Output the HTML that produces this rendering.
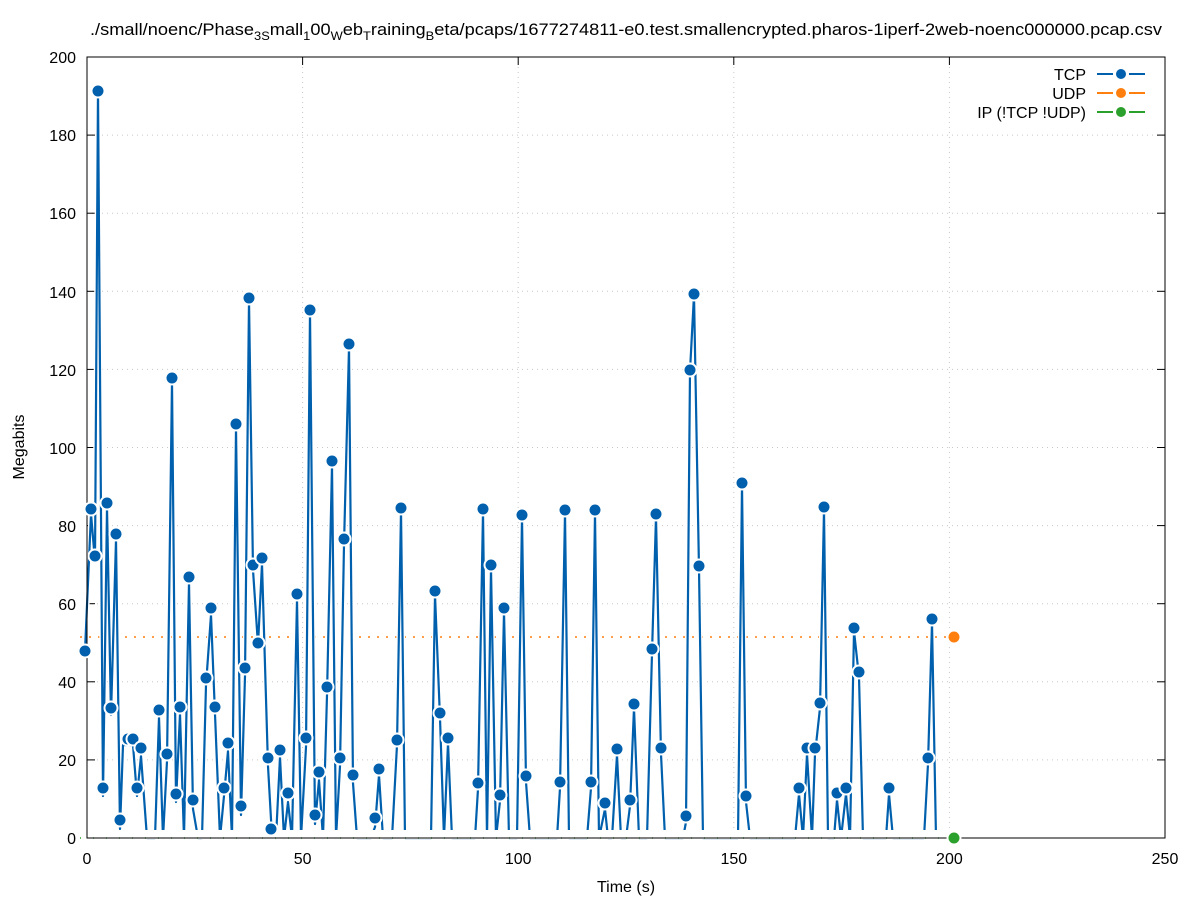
<!DOCTYPE html>
<html><head><meta charset="utf-8"><style>
html,body{margin:0;padding:0;background:#fff;}
svg{display:block;font-family:"Liberation Sans",sans-serif;}
</style></head><body>
<svg width="1197" height="900" viewBox="0 0 1197 900">
<rect width="1197" height="900" fill="#fff"/>
<g stroke="#c8c8c8" stroke-width="1" stroke-dasharray="1,4">
<line x1="87" y1="759.9" x2="1165" y2="759.9"/><line x1="87" y1="681.8" x2="1165" y2="681.8"/>
<line x1="87" y1="603.7" x2="1165" y2="603.7"/><line x1="87" y1="525.6" x2="1165" y2="525.6"/>
<line x1="87" y1="447.5" x2="1165" y2="447.5"/><line x1="87" y1="369.4" x2="1165" y2="369.4"/>
<line x1="87" y1="291.3" x2="1165" y2="291.3"/><line x1="87" y1="213.2" x2="1165" y2="213.2"/>
<line x1="87" y1="135.1" x2="1165" y2="135.1"/>
<line x1="302.6" y1="57" x2="302.6" y2="838"/><line x1="518.2" y1="57" x2="518.2" y2="838"/>
<line x1="733.8" y1="57" x2="733.8" y2="838"/><line x1="949.4" y1="57" x2="949.4" y2="838"/>
</g>
<g stroke="#000" stroke-width="1">
<line x1="87" y1="759.9" x2="95" y2="759.9"/><line x1="87" y1="681.8" x2="95" y2="681.8"/><line x1="87" y1="603.7" x2="95" y2="603.7"/><line x1="87" y1="525.6" x2="95" y2="525.6"/><line x1="87" y1="447.5" x2="95" y2="447.5"/><line x1="87" y1="369.4" x2="95" y2="369.4"/><line x1="87" y1="291.3" x2="95" y2="291.3"/><line x1="87" y1="213.2" x2="95" y2="213.2"/><line x1="87" y1="135.1" x2="95" y2="135.1"/>
<line x1="1165" y1="759.9" x2="1157" y2="759.9"/><line x1="1165" y1="681.8" x2="1157" y2="681.8"/><line x1="1165" y1="603.7" x2="1157" y2="603.7"/><line x1="1165" y1="525.6" x2="1157" y2="525.6"/><line x1="1165" y1="447.5" x2="1157" y2="447.5"/><line x1="1165" y1="369.4" x2="1157" y2="369.4"/><line x1="1165" y1="291.3" x2="1157" y2="291.3"/><line x1="1165" y1="213.2" x2="1157" y2="213.2"/><line x1="1165" y1="135.1" x2="1157" y2="135.1"/>
<line x1="302.6" y1="838" x2="302.6" y2="830"/><line x1="518.2" y1="838" x2="518.2" y2="830"/><line x1="733.8" y1="838" x2="733.8" y2="830"/><line x1="949.4" y1="838" x2="949.4" y2="830"/>
<line x1="302.6" y1="57" x2="302.6" y2="65"/><line x1="518.2" y1="57" x2="518.2" y2="65"/><line x1="733.8" y1="57" x2="733.8" y2="65"/><line x1="949.4" y1="57" x2="949.4" y2="65"/>
</g>
<g font-size="16" fill="#000" text-anchor="end">
<text x="76" y="844">0</text><text x="76" y="766">20</text><text x="76" y="688">40</text><text x="76" y="610">60</text><text x="76" y="532">80</text><text x="76" y="454">100</text><text x="76" y="376">120</text><text x="76" y="298">140</text><text x="76" y="219">160</text><text x="76" y="141">180</text><text x="76" y="63">200</text>
</g>
<g font-size="16" fill="#000" text-anchor="middle">
<text x="87" y="864">0</text><text x="302.6" y="864">50</text><text x="518.2" y="864">100</text><text x="733.8" y="864">150</text><text x="949.4" y="864">200</text><text x="1165" y="864">250</text>
<text x="626" y="892">Time (s)</text>
<text x="626" y="35" font-size="17" textLength="1072" lengthAdjust="spacingAndGlyphs">./small/noenc/Phase<tspan font-size="12" dy="5">3S</tspan><tspan dy="-5">mall</tspan><tspan font-size="12" dy="5">1</tspan><tspan dy="-5">00</tspan><tspan font-size="12" dy="5">W</tspan><tspan dy="-5">eb</tspan><tspan font-size="12" dy="5">T</tspan><tspan dy="-5">raining</tspan><tspan font-size="12" dy="5">B</tspan><tspan dy="-5">eta/pcaps/1677274811-e0.test.smallencrypted.pharos-1iperf-2web-noenc000000.pcap.csv</tspan></text>
</g>
<text x="24" y="447" font-size="16" text-anchor="middle" transform="rotate(-90 24 447)">Megabits</text>
<line x1="80" y1="637" x2="954" y2="637" stroke="#ff7f0e" stroke-width="1.5" stroke-dasharray="2,7"/>
<g fill="none" stroke-linejoin="round">
<polyline stroke="#fff" stroke-width="5" points="85,651 91,514 95,561 98,91 103,796 107,508 111,715 116,540 120,829 123,745 133,745 137,796 141,756 147,838 155,838 159,717 163,838 167,761 172,382 176,802 180,714 184,838 189,583 193,809 198,838 202,838 206,685 211,615 215,714 220,838 224,796 228,751 232,838 236,428 241,815 245,676 249,301 253,570 258,645 262,564 268,766 272,837 276,838 280,757 284,838 288,802 292,838 297,600 301,838 306,747 310,313 315,824 319,780 323,838 327,695 332,466 336,838 340,766 344,545 349,348 353,783 357,838 371,838 375,827 379,775 383,838 392,838 397,745 401,511 405,838 431,838 435,595 440,718 444,838 448,743 452,838 475,838 478,789 483,512 487,838 491,569 496,838 500,801 504,612 509,838 517,838 522,518 526,782 530,838 557,838 560,788 565,513 569,838 587,838 591,788 595,513 599,838 605,809 608,838 612,838 617,755 621,838 626,838 630,806 634,708 639,838 647,838 652,653 656,517 661,754 665,838 683,838 686,822 690,371 694,295 699,569 703,838 738,838 742,486 746,802 750,838 795,838 799,794 803,838 807,754 812,838 815,754 820,708 824,510 828,838 834,838 837,800 841,838 846,794 850,838 854,631 859,677 863,838 886,838 889,794 893,838 924,838 928,764 932,623 936,838"/>
<polyline stroke="#0060ad" stroke-width="2.2" points="85,651 91,514 95,561 98,91 103,796 107,508 111,715 116,540 120,829 123,745 133,745 137,796 141,756 147,838 155,838 159,717 163,838 167,761 172,382 176,802 180,714 184,838 189,583 193,809 198,838 202,838 206,685 211,615 215,714 220,838 224,796 228,751 232,838 236,428 241,815 245,676 249,301 253,570 258,645 262,564 268,766 272,837 276,838 280,757 284,838 288,802 292,838 297,600 301,838 306,747 310,313 315,824 319,780 323,838 327,695 332,466 336,838 340,766 344,545 349,348 353,783 357,838 371,838 375,827 379,775 383,838 392,838 397,745 401,511 405,838 431,838 435,595 440,718 444,838 448,743 452,838 475,838 478,789 483,512 487,838 491,569 496,838 500,801 504,612 509,838 517,838 522,518 526,782 530,838 557,838 560,788 565,513 569,838 587,838 591,788 595,513 599,838 605,809 608,838 612,838 617,755 621,838 626,838 630,806 634,708 639,838 647,838 652,653 656,517 661,754 665,838 683,838 686,822 690,371 694,295 699,569 703,838 738,838 742,486 746,802 750,838 795,838 799,794 803,838 807,754 812,838 815,754 820,708 824,510 828,838 834,838 837,800 841,838 846,794 850,838 854,631 859,677 863,838 886,838 889,794 893,838 924,838 928,764 932,623 936,838"/>
</g>
<rect x="80" y="830" width="876" height="9" fill="#fff"/>
<line x1="80" y1="838" x2="954" y2="838" stroke="#2ca02c" stroke-width="1.5" stroke-dasharray="1,12"/>
<rect x="87" y="57" width="1078" height="781" fill="none" stroke="#000" stroke-width="1"/>
<g fill="#0060ad" stroke="#fff" stroke-width="2">
<circle cx="85" cy="651" r="6.5"/><circle cx="91" cy="509" r="6.5"/><circle cx="95" cy="556" r="6.5"/><circle cx="98" cy="91" r="6.5"/><circle cx="103" cy="788" r="6.5"/><circle cx="107" cy="503" r="6.5"/><circle cx="111" cy="708" r="6.5"/><circle cx="116" cy="534" r="6.5"/><circle cx="120" cy="820" r="6.5"/><circle cx="128" cy="739" r="6.5"/><circle cx="133" cy="739" r="6.5"/><circle cx="137" cy="788" r="6.5"/><circle cx="141" cy="748" r="6.5"/>
<circle cx="159" cy="710" r="6.5"/><circle cx="167" cy="754" r="6.5"/><circle cx="172" cy="378" r="6.5"/><circle cx="176" cy="794" r="6.5"/><circle cx="180" cy="707" r="6.5"/><circle cx="189" cy="577" r="6.5"/><circle cx="193" cy="800" r="6.5"/><circle cx="206" cy="678" r="6.5"/><circle cx="211" cy="608" r="6.5"/><circle cx="215" cy="707" r="6.5"/><circle cx="224" cy="788" r="6.5"/><circle cx="228" cy="743" r="6.5"/><circle cx="236" cy="424" r="6.5"/><circle cx="241" cy="806" r="6.5"/><circle cx="245" cy="668" r="6.5"/><circle cx="249" cy="298" r="6.5"/><circle cx="253" cy="565" r="6.5"/><circle cx="258" cy="643" r="6.5"/><circle cx="262" cy="558" r="6.5"/><circle cx="268" cy="758" r="6.5"/><circle cx="271" cy="829" r="6.5"/><circle cx="280" cy="750" r="6.5"/><circle cx="288" cy="793" r="6.5"/><circle cx="297" cy="594" r="6.5"/><circle cx="306" cy="738" r="6.5"/><circle cx="310" cy="310" r="6.5"/><circle cx="315" cy="815" r="6.5"/><circle cx="319" cy="772" r="6.5"/><circle cx="327" cy="687" r="6.5"/><circle cx="332" cy="461" r="6.5"/><circle cx="340" cy="758" r="6.5"/><circle cx="344" cy="539" r="6.5"/><circle cx="349" cy="344" r="6.5"/><circle cx="353" cy="775" r="6.5"/>
<circle cx="375" cy="818" r="6.5"/><circle cx="379" cy="769" r="6.5"/><circle cx="397" cy="740" r="6.5"/><circle cx="401" cy="508" r="6.5"/><circle cx="435" cy="591" r="6.5"/><circle cx="440" cy="713" r="6.5"/><circle cx="448" cy="738" r="6.5"/><circle cx="478" cy="783" r="6.5"/><circle cx="483" cy="509" r="6.5"/><circle cx="491" cy="565" r="6.5"/><circle cx="500" cy="795" r="6.5"/><circle cx="504" cy="608" r="6.5"/><circle cx="522" cy="515" r="6.5"/><circle cx="526" cy="776" r="6.5"/><circle cx="560" cy="782" r="6.5"/><circle cx="565" cy="510" r="6.5"/><circle cx="591" cy="782" r="6.5"/><circle cx="595" cy="510" r="6.5"/><circle cx="605" cy="803" r="6.5"/><circle cx="617" cy="749" r="6.5"/><circle cx="630" cy="800" r="6.5"/><circle cx="634" cy="704" r="6.5"/><circle cx="652" cy="649" r="6.5"/><circle cx="656" cy="514" r="6.5"/><circle cx="661" cy="748" r="6.5"/>
<circle cx="686" cy="816" r="6.5"/><circle cx="690" cy="370" r="6.5"/><circle cx="694" cy="294" r="6.5"/><circle cx="699" cy="566" r="6.5"/><circle cx="742" cy="483" r="6.5"/><circle cx="746" cy="796" r="6.5"/><circle cx="799" cy="788" r="6.5"/><circle cx="807" cy="748" r="6.5"/><circle cx="815" cy="748" r="6.5"/><circle cx="820" cy="703" r="6.5"/><circle cx="824" cy="507" r="6.5"/><circle cx="837" cy="793" r="6.5"/><circle cx="846" cy="788" r="6.5"/><circle cx="854" cy="628" r="6.5"/><circle cx="859" cy="672" r="6.5"/><circle cx="889" cy="788" r="6.5"/><circle cx="928" cy="758" r="6.5"/><circle cx="932" cy="619" r="6.5"/>
</g>
<circle cx="954" cy="637" r="6.5" fill="#ff7f0e" stroke="#fff" stroke-width="2"/>
<circle cx="954" cy="838" r="6.5" fill="#2ca02c" stroke="#fff" stroke-width="2"/>
<g font-size="16" text-anchor="end" fill="#000">
<text x="1086" y="80">TCP</text><text x="1086" y="99">UDP</text><text x="1086" y="118">IP (!TCP  !UDP)</text>
</g>
<g stroke-width="2">
<line x1="1097" y1="74" x2="1113" y2="74" stroke="#0060ad"/><line x1="1129" y1="74" x2="1145" y2="74" stroke="#0060ad"/>
<line x1="1097" y1="93" x2="1113" y2="93" stroke="#ff7f0e"/><line x1="1129" y1="93" x2="1145" y2="93" stroke="#ff7f0e"/>
<line x1="1097" y1="112" x2="1113" y2="112" stroke="#2ca02c"/><line x1="1129" y1="112" x2="1145" y2="112" stroke="#2ca02c"/>
</g>
<circle cx="1121" cy="74" r="6" fill="#0060ad" stroke="#fff" stroke-width="2"/>
<circle cx="1121" cy="93" r="6" fill="#ff7f0e" stroke="#fff" stroke-width="2"/>
<circle cx="1121" cy="112" r="6" fill="#2ca02c" stroke="#fff" stroke-width="2"/>
</svg>
</body></html>
